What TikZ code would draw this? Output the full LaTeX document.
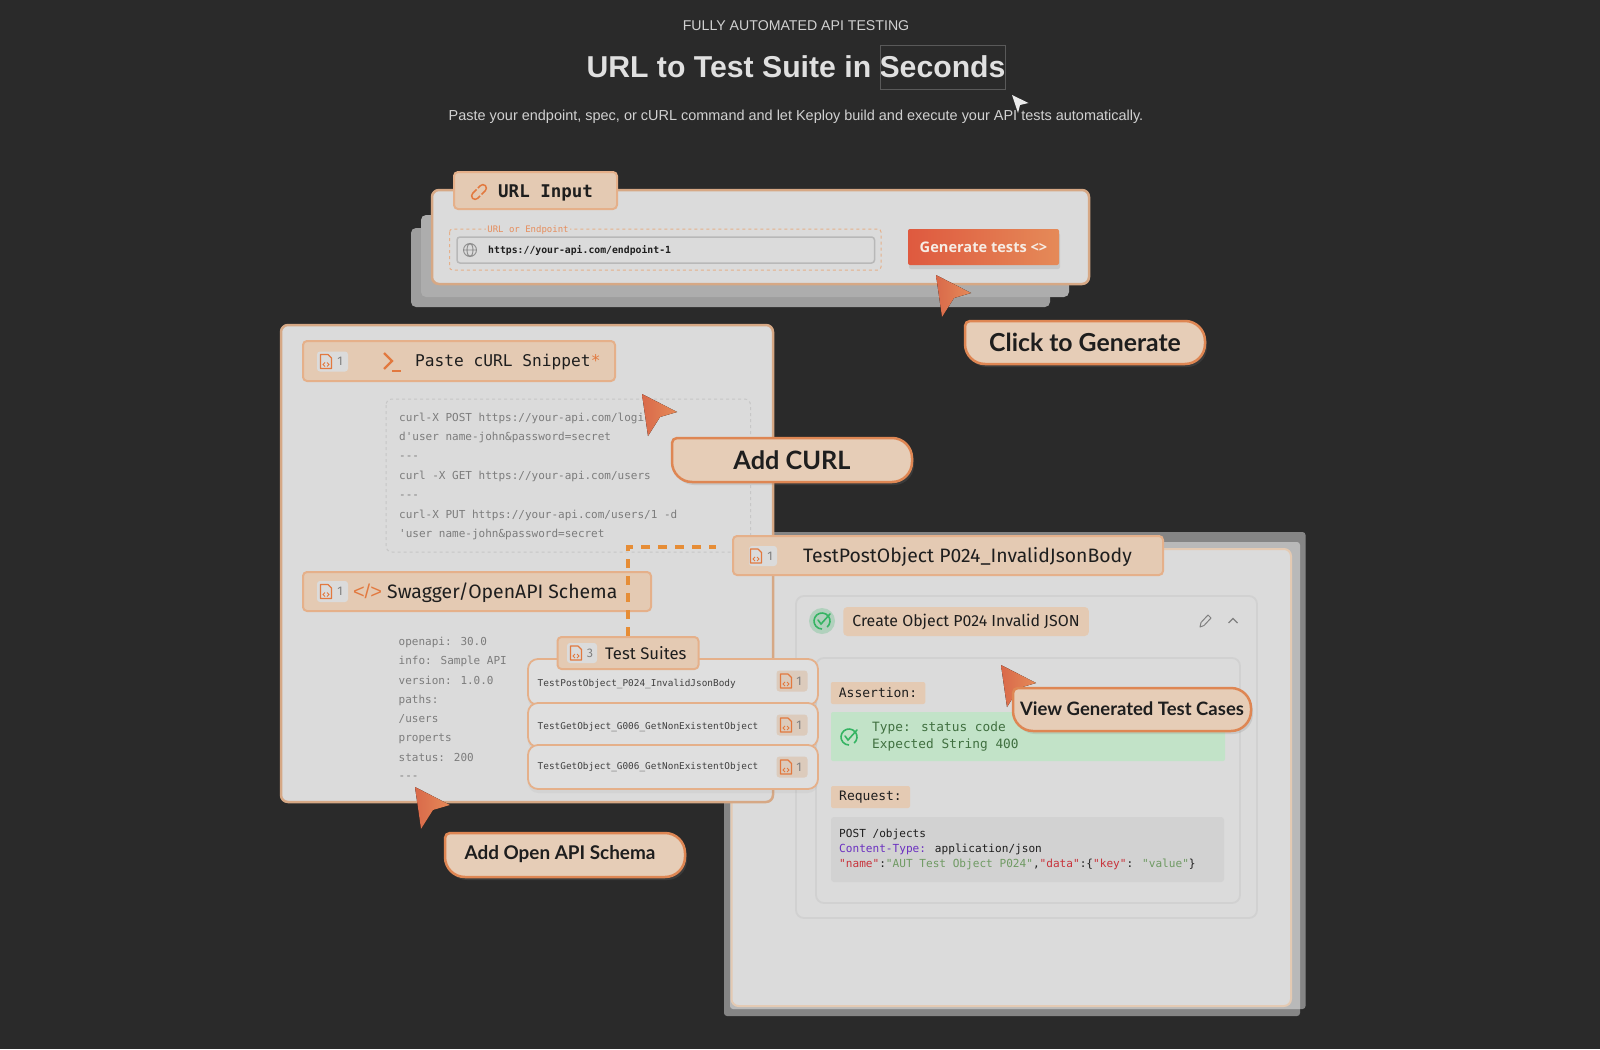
\documentclass[tikz,border=0pt]{standalone}
\usepackage{fontspec}
\usetikzlibrary{shadows}
\setmainfont{Liberation Sans}
\newfontfamily\codefont{DejaVu Sans Mono}
\newfontfamily\pillfont{Lato}
\newfontfamily\tabfont{Fira Sans}
\newfontfamily\btnfont{Open Sans}
\newcommand{\pxsize}[1]{\fontsize{#1}{#1}\selectfont}
\definecolor{pagebg}{HTML}{2A2A2A}
\definecolor{panelfill}{HTML}{DBDBDB}
\definecolor{paneledge}{HTML}{D6A885}
\definecolor{tabfill}{HTML}{E4CAB3}
\definecolor{tabedge}{HTML}{E5B08A}
\definecolor{pillfill}{HTML}{E6CDB7}
\definecolor{pilledge}{HTML}{DE8653}
\definecolor{accent}{HTML}{E2793F}
\definecolor{codegray}{HTML}{7C7C7C}
\definecolor{inkdark}{HTML}{1E1E1E}
\definecolor{greenok}{HTML}{35B463}
\definecolor{greenbox}{HTML}{C2E3C8}
\definecolor{codebox}{HTML}{D2D2D2}
\definecolor{badgefill}{HTML}{DCCBBC}
\definecolor{cursorleft}{HTML}{D9694A}
\definecolor{cursorright}{HTML}{E58A58}
\definecolor{jsonred}{HTML}{C8323A}
\definecolor{jsongreen}{HTML}{6F9A63}
\definecolor{jsonpurple}{HTML}{6A2FC0}
\tikzset{
  panel/.style={draw=paneledge,fill=panelfill,line width=2.5,rounded corners=7},
  tabbox/.style={draw=tabedge,fill=tabfill,line width=2,rounded corners=4,inner sep=0},
  iconbox/.style={fill=panelfill,rounded corners=3,inner sep=0},
  codeline/.style={anchor=west,inner sep=0,text=codegray,font=\codefont\pxsize{11}},
  tabtext/.style={anchor=west,inner sep=0,text=inkdark,font=\tabfont\pxsize{19.4}},
  countnum/.style={inner sep=0,text=gray,font=\tabfont\pxsize{12.5}},
  graytag/.style={fill=tabfill,rounded corners=2,inner sep=0,text=inkdark,font=\codefont\pxsize{13}},
  rowbox/.style={draw=tabedge,fill=panelfill!90!white,line width=1.8,rounded corners=10,drop shadow={opacity=.08,shadow xshift=0,shadow yshift=4}},
  rowtext/.style={anchor=west,inner sep=0,text=inkdark!85,font=\codefont\pxsize{9.4}},
  innercard/.style={draw=black!18,line width=1.8,rounded corners=8},
  pillbox/.style={draw=pilledge,fill=pillfill,line width=2.5,drop shadow={opacity=.2,shadow xshift=2,shadow yshift=3}},
  pilltext/.style={inner sep=0,text=inkdark,font=\pillfont\bfseries},
  link/.style={draw=accent!85!yellow,line width=3.5,dash pattern=on 9 off 8},
  fileicon/.pic={
    \draw[accent,line width=1.2,line join=round] (-5.5,-7) -- (2,-7) -- (5.5,-3.5) -- (5.5,7) -- (-5.5,7) -- cycle;
    \draw[accent,line width=.8] (-1,1) -- (-3,3) -- (-1,5) (1,1) -- (3,3) -- (1,5);
  },
  checkicon/.pic={
    \draw[greenok,line width=1.6] (50:8) arc (50:-270:8);
    \draw[greenok,line width=1.6,line cap=round] (-4,-1) -- (-1,3) -- (8,-7);
  },
  cursor/.pic={
    \fill[left color=cursorleft,right color=cursorright] (0,0) -- (35,18) -- (18,23) -- (6,42) -- cycle;
  }
}
\begin{document}
\begin{tikzpicture}[x=1pt,y=-1pt]
\useasboundingbox (0,0) rectangle (1600,1049);
\fill[pagebg] (0,0) rectangle (1600,1049);

% heading
\node[inner sep=0,text=white!82!black,font=\pxsize{14.15}] (kicker) at (796,25.5) {FULLY AUTOMATED API TESTING};
\node[inner sep=0,text=white!88!black,font=\bfseries\pxsize{30.2}] (headline) at (796,66.5) {URL to Test Suite in Seconds};
\draw[white!35!black,line width=.8] (880,45) rectangle (1005.5,89);
\node[inner sep=0,text=white!82!black,font=\pxsize{14.47}] (subline) at (796,117) {Paste your endpoint, spec, or cURL command and let Keploy build and execute your API tests automatically.};
\fill[white!92!black] (1012,95) -- (1028.5,103) -- (1020,105) -- (1018,113) -- cycle;

% url card
\fill[black!38,rounded corners=5] (411,228) rectangle (1050,307);
\fill[black!32,rounded corners=5] (421,215) rectangle (1069,297);
\draw[panel] (432,190) rectangle (1089,284);
\node[tabbox,minimum width=163,minimum height=37] (urltab) at (535.5,190.5) {};
\draw[accent,line width=1.5,rounded corners=3.5,rotate around={45:(479,192)}] (479,188.5) -- (470,188.5) -- (470,195.5) -- (477,195.5);
\draw[accent,line width=1.5,rounded corners=3.5,rotate around={45:(479,192)}] (479,195.5) -- (488,195.5) -- (488,188.5) -- (481,188.5);
\node[tabtext,font=\codefont\bfseries\pxsize{17.5}] (urltitle) at (498,192.5) {URL Input};
\draw[tabedge,line width=1,dashed,rounded corners=3] (449.5,229) rectangle (881,270);
\node[inner sep=1,fill=panelfill,text=accent!85,font=\codefont\pxsize{9}] (urlhint) at (528,230) {URL or Endpoint};
\draw[black!28,line width=1.5,rounded corners=3] (457,237) rectangle (874.5,263);
\draw[black!45,line width=.9] (470,250) circle (6.5) (463.5,250) -- (476.5,250) (470,250) ellipse (3 and 6.5);
\node[codeline,text=inkdark,font=\codefont\bfseries\pxsize{9.8}] (urlfield) at (488,250.5) {https://your-api.com/endpoint-1};
\node[left color=cursorleft!85!red,right color=cursorright,rounded corners=2,inner sep=0,minimum width=151,minimum height=36,text=white!65!tabfill,font=\btnfont\bfseries\pxsize{14.6},drop shadow={opacity=.2,shadow xshift=1,shadow yshift=4}] (generate) at (983.5,247) {Generate tests <>};

% test case card, sits behind the curl panel
\fill[white,fill opacity=.43,rounded corners=3] (730,532) rectangle (1305.5,1009);
\fill[white,fill opacity=.43,rounded corners=3] (724,542) rectangle (1300,1016);
\draw[panel,draw=tabfill,line width=2] (731.5,549) rectangle (1291,1006);
\draw[innercard] (796,596) rectangle (1257,918);
\fill[greenok!25!panelfill] (822,621) circle (13);
\pic at (822,621) {checkicon};
\node[graytag,minimum width=245.5,minimum height=29,rounded corners=4,font=\tabfont\pxsize{15.9}] (casename) at (966,621.5) {Create Object P024 Invalid JSON};
\draw[black!50,line width=1,line join=round] (1200,627) -- (1201,622.5) -- (1208,615) -- (1211,618) -- (1204,625.5) -- cycle;
\draw[black!50,line width=1.2] (1228.5,623) -- (1233,618.5) -- (1237.5,623);
\draw[innercard] (816,658) rectangle (1240,903);
\node[graytag,minimum width=94.5,minimum height=22] (assertion) at (878,693) {Assertion:};
\fill[greenbox,rounded corners=2] (831,712) rectangle (1225,761);
\pic at (849,737) {checkicon};
\node[codeline,text=green!25!black!75,font=\codefont\pxsize{12.8}] (casetype) at (872,727.5) {Type: status code};
\node[codeline,text=green!25!black!75,font=\codefont\pxsize{12.8}] (caseexpect) at (872,745.5) {Expected String 400};
\node[graytag,minimum width=79,minimum height=22] (request) at (870.5,797) {Request:};
\fill[codebox,rounded corners=3] (831,817) rectangle (1224,882);
\node[codeline,text=inkdark,font=\codefont\pxsize{11.1}] (reqline) at (839,834) {POST /objects};
\node[codeline,text=inkdark,font=\codefont\pxsize{11.1}] (reqhead) at (839,849) {\textcolor{jsonpurple}{Content-Type:} application/json};
\node[codeline,text=inkdark,font=\codefont\pxsize{11.1}] (reqbody) at (839,864.5) {\textcolor{jsonred}{"name"}:\textcolor{jsongreen}{"AUT Test Object P024"},\textcolor{jsonred}{"data"}:\{\textcolor{jsonred}{"key"}: \textcolor{jsongreen}{"value"}\}};

% curl panel
\draw[panel] (281,325) rectangle (773,802);
\node[tabbox,minimum width=312,minimum height=40] (curltab) at (459,361) {};
\node[iconbox,minimum width=31,minimum height=20] (curlicon) at (332.5,361.5) {};
\pic at (326,361.5) {fileicon};
\node[countnum] (curlnum) at (340,361.5) {1};
\draw[accent,line width=2.2] (384,353) -- (392,361) -- (384,369);
\draw[accent,line width=2.2] (392,371) -- (401,371);
\node[tabtext,font=\codefont\pxsize{16.2}] (curltitle) at (415,362) {Paste cURL Snippet\textcolor{accent}{*}};
\draw[black!22,line width=1,dashed,rounded corners=6] (386,399) rectangle (750.5,552);
\foreach \ty/\txt [count=\i] in {418/{curl-X POST https://your-api.com/logi},437/{d'user name-john\&password=secret},458/{---},476/{curl -X GET https://your-api.com/users},497/{---},515/{curl-X PUT https://your-api.com/users/1 -d},534/{'user name-john\&password=secret}}
  \node[codeline] (curl\i) at (399,\ty) {\txt};
\node[tabbox,minimum width=348,minimum height=39] (swaggertab) at (477,591.5) {};
\node[iconbox,minimum width=31,minimum height=21] (swaggericon) at (332.5,591.5) {};
\pic at (326,591.5) {fileicon};
\node[countnum] (swaggernum) at (340,591.5) {1};
\node[inner sep=0,text=accent,font=\pxsize{20}] (swaggermark) at (367.5,591) {</>};
\node[tabtext] (swaggertitle) at (387,593) {Swagger/OpenAPI Schema};
\foreach \ty/\txt [count=\i] in {642/{openapi: 30.0},661/{info: Sample API},680/{version: 1.0.0},700/{paths:},719/{/users},738.5/{properts},757/{status: 200},777.5/{---}}
  \node[codeline] (spec\i) at (398.5,\ty) {\txt};

% test case title tab
\node[tabbox,minimum width=430,minimum height=39] (casetab) at (948,555.5) {};
\node[iconbox,minimum width=28,minimum height=20] (caseicon) at (763,556) {};
\pic at (756,556) {fileicon};
\node[countnum] (casenum) at (770,556) {1};
\node[tabtext] (casetitle) at (803,557) {TestPostObject P024\_InvalidJsonBody};

% suites
\foreach \ya/\yb/\ty/\name [count=\i] in {659/705/684.5/{TestPostObject\_P024\_InvalidJsonBody},703/747/727/{TestGetObject\_G006\_GetNonExistentObject},745/789/767.5/{TestGetObject\_G006\_GetNonExistentObject}} {
  \draw[rowbox] (528,\ya) rectangle (818,\yb);
  \node[rowtext] (row\i) at (537.5,\ty) {\name};
  \node[fill=badgefill,rounded corners=3,inner sep=0,minimum width=31,minimum height=21] (rowbadge\i) at (792,\ya+22) {};
  \pic at (786,\ya+22) {fileicon};
  \node[countnum] (rownum\i) at (799,\ya+22) {1};
}
\node[tabbox,minimum width=141,minimum height=32] (suites) at (628,653) {};
\node[iconbox,minimum width=30,minimum height=20] (suitesicon) at (582,653) {};
\pic at (576,653) {fileicon};
\node[countnum] (suitesnum) at (590,653) {3};
\node[tabtext,font=\tabfont\pxsize{16.7}] (suitestitle) at (605,653) {Test Suites};

\coordinate (linkend) at (716,547);
\draw[link] (suites.north) |- (linkend);

% cursors
\foreach \cx/\cy in {936/275,642/394,415/787,1001/665}
  \pic at (\cx,\cy) {cursor};

% callouts
\draw[pillbox] (995,321) [rounded corners=20] -- (1205,321) -- (1205,364) -- (965,364) [rounded corners=5] -- (965,321) -- cycle;
\node[pilltext,font=\pillfont\bfseries\pxsize{24.8}] (clicklabel) at (1085,342.5) {Click to Generate};
\draw[pillbox] (702,438) [rounded corners=20] -- (912,438) -- (912,482) -- (672,482) [rounded corners=5] -- (672,438) -- cycle;
\node[pilltext,font=\pillfont\bfseries\pxsize{25.3}] (curllabel) at (792,460) {Add CURL};
\draw[pillbox] (475,833) [rounded corners=20] -- (685,833) -- (685,877) -- (445,877) [rounded corners=5] -- (445,833) -- cycle;
\node[pilltext,font=\pillfont\bfseries\pxsize{18.9}] (speclabel) at (560,854) {Add Open API Schema};
\draw[pillbox] (1043,688) [rounded corners=20] -- (1251,688) -- (1251,731) -- (1013,731) [rounded corners=5] -- (1013,688) -- cycle;
\node[pilltext,font=\pillfont\bfseries\pxsize{18.5}] (caselabel) at (1132,709) {View Generated Test Cases};
\end{tikzpicture}
\end{document}
